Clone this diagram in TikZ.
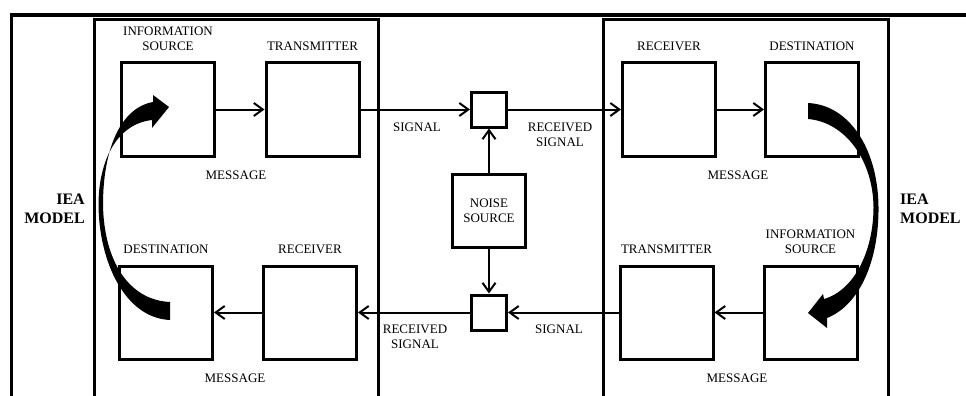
\documentclass[tikz,border=0pt]{standalone}
\usepackage{fontspec}
\setmainfont{Liberation Serif}
\usetikzlibrary{arrows.meta,positioning}

\tikzset{
  blk/.style={draw,line width=3pt,minimum size=93pt,inner sep=0pt},
  sml/.style={draw,line width=3pt,minimum size=35pt,inner sep=0pt},
  lbl/.style={font=\fontsize{13}{15}\selectfont,align=center,inner sep=0pt},
  model/.style={font=\fontsize{16}{19}\selectfont\bfseries,inner sep=0pt},
  flow/.style={line width=2pt,-{Straight Barb[length=9pt,width=13pt]}},
  frame/.style={line width=3pt}
}

\begin{document}
\begin{tikzpicture}[x=1pt,y=-1pt]
\useasboundingbox (0,0) rectangle (966,396);
% frames
\draw[line width=4pt] (9.5,15) -- (966,15);
\draw[frame] (11.5,15) -- (11.5,396);
\draw[frame] (94,396) -- (94,19.5) -- (378.5,19.5) -- (378.5,396);
\draw[frame] (603,396) -- (603,19.5) -- (888,19.5) -- (888,396);
% left model
\node[blk] (infoL) at (168,109.5) {};
\node[blk] (transL) at (312.5,109.5) {};
\node[blk] (destL) at (166,312.5) {};
\node[blk] (recvL) at (310,312.5) {};
\node[lbl,above=11pt of infoL] (infoLt) {INFORMATION\\SOURCE};
\node[lbl,above=11pt of transL] (transLt) {TRANSMITTER};
\node[lbl,above=11pt of destL] (destLt) {DESTINATION};
\node[lbl,above=11pt of recvL] (recvLt) {RECEIVER};
\node[lbl] (msgLt) at (236,175.5) {MESSAGE};
\node[lbl] (msgLb) at (235,378) {MESSAGE};
% right model
\node[blk] (recvR) at (669,109.5) {};
\node[blk] (destR) at (812,109.5) {};
\node[blk] (transR) at (666.5,312.5) {};
\node[blk] (infoR) at (810.5,312.5) {};
\node[lbl,above=11pt of recvR] (recvRt) {RECEIVER};
\node[lbl,above=11pt of destR] (destRt) {DESTINATION};
\node[lbl,above=11pt of transR] (transRt) {TRANSMITTER};
\node[lbl,above=11pt of infoR] (infoRt) {INFORMATION\\SOURCE};
\node[lbl] (msgRt) at (738,175.5) {MESSAGE};
\node[lbl] (msgRb) at (737,378) {MESSAGE};
% channel
\node[sml] (sumT) at (489,109.5) {};
\node[sml] (sumB) at (489,312.5) {};
\node[blk,lbl,minimum size=73pt] (noise) at (489,210.5) {NOISE\\SOURCE};
\node[lbl] (sigT) at (417,127) {SIGNAL};
\node[lbl] (rsigT) at (560,134.5) {RECEIVED\\SIGNAL};
\node[lbl] (rsigB) at (415,336.5) {RECEIVED\\SIGNAL};
\node[lbl] (sigB) at (559,329) {SIGNAL};
\node[model,align=right,anchor=east] (ieaL) at (85,208.5) {IEA\\MODEL};
\node[model,align=left,anchor=west] (ieaR) at (900,208.5) {IEA\\MODEL};
% connectors
\draw[flow] (infoL) -- (transL);
\draw[flow] (transL) -- (sumT);
\draw[flow] (sumT) -- (recvR);
\draw[flow] (recvR) -- (destR);
\draw[flow] (noise) -- (sumT);
\draw[flow] (noise) -- (sumB);
\draw[flow] (infoR) -- (transR);
\draw[flow] (transR) -- (sumB);
\draw[flow] (sumB) -- (recvL);
\draw[flow] (recvL) -- (destL);
% the two bent arrows
\fill (170,320) .. controls (125,318) and (99,262) .. (98.5,205)
  .. controls (98.5,162) and (116,124) .. (152,120)
  -- (152,128) -- (169,107) -- (153,95) -- (153,102)
  .. controls (120,108) and (103,150) .. (103,205)
  .. controls (104,260) and (128,300) .. (170,302) -- cycle;
\fill (808,103) -- (808,119)
  .. controls (845,122) and (873,160) .. (873.5,207)
  .. controls (873.5,250) and (855,290) .. (824,299)
  -- (823,294) -- (808,313) -- (827,328) -- (827,318)
  .. controls (860,305) and (879,260) .. (878.5,207)
  .. controls (878,150) and (850,105) .. (808,103) -- cycle;
\end{tikzpicture}
\end{document}
